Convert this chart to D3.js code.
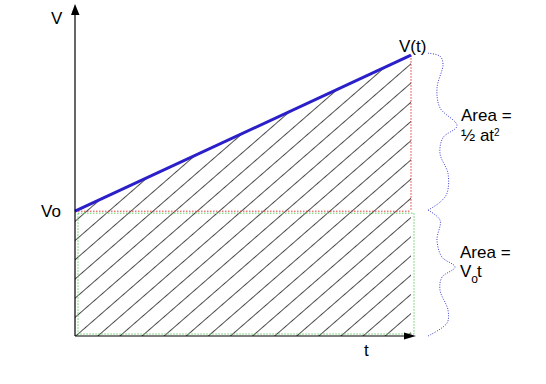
<!DOCTYPE html>
<html>
<head>
<meta charset="utf-8">
<script src="https://cdn.jsdelivr.net/npm/d3@7"></script>
<style>
  body { margin: 0; background: #fff; }
  text { font-family: "Liberation Sans", Arial, sans-serif; fill: #000; }
</style>
</head>
<body>
<div id="chart"></div>
<script>
// velocity vs time, constant acceleration
const times = [0, 10];
const velocities = [4, 9];
const v0 = velocities[0];
const tEnd = times[1];

// brace shapes: [fraction along span, px offset right of t]
const upperBrace = [[0, 17], [0.019, 29], [0.07, 32], [0.222, 26], [0.348, 29], [0.462, 46],
  [0.538, 32], [0.639, 29], [0.766, 37], [0.892, 36], [0.949, 29], [1, 17]];
const lowerBrace = [[0, 17], [0.079, 29], [0.238, 26], [0.373, 31], [0.452, 44], [0.532, 31],
  [0.635, 29], [0.794, 37], [0.897, 36], [1, 17]];

const w = 546, h = 384;
const svg = d3.select("#chart").append("svg").attr("width", w).attr("height", h);

const x = d3.scaleLinear().domain([0, 10]).range([75, 411]);
const y = d3.scaleLinear().domain([0, 10]).range([336, 24]);

// hatch pattern
const defs = svg.append("defs");
defs.append("pattern")
  .attr("id", "hatch")
  .attr("patternUnits", "userSpaceOnUse")
  .attr("width", 40).attr("height", 14.5)
  .attr("patternTransform", "translate(75,336) rotate(-41)")
  .append("line")
  .attr("x1", 0).attr("y1", 0.5).attr("x2", 40).attr("y2", 0.5)
  .attr("stroke", "#2a2a2a").attr("stroke-width", 0.85);

const pts = times.map((t, i) => ({ t, v: velocities[i] }));

const area = d3.area().x(d => x(d.t)).y0(y(0)).y1(d => y(d.v));
svg.append("path").datum(pts).attr("d", area).attr("fill", "url(#hatch)");

// lower rectangle (Vo * t), green dotted
svg.append("rect")
  .attr("x", x(0) + 3).attr("y", y(v0) + 2)
  .attr("width", x(tEnd) - x(0)).attr("height", y(0) - y(v0) - 4)
  .attr("fill", "none").attr("stroke", "#66cc66").attr("stroke-width", 1)
  .attr("stroke-dasharray", "1.5,1.5");

// red dotted lines: Vo level and t vertical
svg.append("line")
  .attr("x1", x(0)).attr("x2", x(tEnd)).attr("y1", y(v0)).attr("y2", y(v0))
  .attr("stroke", "#e23a3a").attr("stroke-width", 1).attr("stroke-dasharray", "1.5,1.5");
svg.append("line")
  .attr("x1", x(tEnd)).attr("x2", x(tEnd)).attr("y1", y(velocities[1])).attr("y2", y(v0))
  .attr("stroke", "#e23a3a").attr("stroke-width", 1).attr("stroke-dasharray", "1.5,1.5");

// velocity line
svg.append("path").datum(pts)
  .attr("d", d3.line().x(d => x(d.t)).y(d => y(d.v)))
  .attr("fill", "none").attr("stroke", "#2b1fc9").attr("stroke-width", 3);

// axes (no ticks), with arrow heads
const yAxis = d3.axisLeft(y).tickValues([]).tickSizeOuter(0);
const xAxis = d3.axisBottom(x).tickValues([]).tickSizeOuter(0);
const yAx = svg.append("g").attr("transform", `translate(${x(0)},0)`).call(yAxis);
yAx.select(".domain").attr("d", `M0,${y(0)}V14`).attr("stroke", "#000").attr("stroke-width", 1.2);
const xAx = svg.append("g").attr("transform", `translate(0,${y(0)})`).call(xAxis);
xAx.select(".domain").attr("d", `M${x(0)},0H405`).attr("stroke", "#000").attr("stroke-width", 1.2);

svg.append("path").attr("d", `M${x(0)},4L${x(0) - 4},15L${x(0) + 4.5},15Z`).attr("fill", "#000");
svg.append("path").attr("d", `M416,${y(0)}L404,${y(0) - 3.5}L404,${y(0) + 3.5}Z`).attr("fill", "#000");

// braces
const braceLine = d3.line().curve(d3.curveCatmullRom.alpha(0.5));
function drawBrace(tmpl, yTop, yBot) {
  svg.append("path")
    .attr("d", braceLine(tmpl.map(([f, dx]) => [x(tEnd) + dx, yTop + f * (yBot - yTop)])))
    .attr("fill", "none").attr("stroke", "#3a3ad0").attr("stroke-width", 1)
    .attr("stroke-dasharray", "1,1.5");
}
drawBrace(upperBrace, y(velocities[1]) - 2, y(v0) - 1);
drawBrace(lowerBrace, y(v0) - 1, y(0));

// labels
const fs = 17;
svg.append("text").attr("x", 51).attr("y", 24).attr("font-size", fs).text("V");
svg.append("text").attr("x", 41).attr("y", 217).attr("font-size", fs).text("Vo");
svg.append("text").attr("x", 399).attr("y", 52).attr("font-size", fs).text("V(t)");
svg.append("text").attr("x", 364).attr("y", 356).attr("font-size", fs).text("t");

svg.append("text").attr("x", 461).attr("y", 121).attr("font-size", fs).text("Area =");
const t2 = svg.append("text").attr("x", 461).attr("y", 141).attr("font-size", fs);
t2.append("tspan").text("½ at");
t2.append("tspan").attr("dy", -5).attr("font-size", 10).text("2");

svg.append("text").attr("x", 460).attr("y", 258).attr("font-size", fs).text("Area =");
const t3 = svg.append("text").attr("x", 460).attr("y", 277).attr("font-size", fs);
t3.append("tspan").text("V");
t3.append("tspan").attr("dy", 6).attr("font-size", 12).text("o");
t3.append("tspan").attr("dy", -6).attr("dx", -1).text("t");
</script>
</body>
</html>
